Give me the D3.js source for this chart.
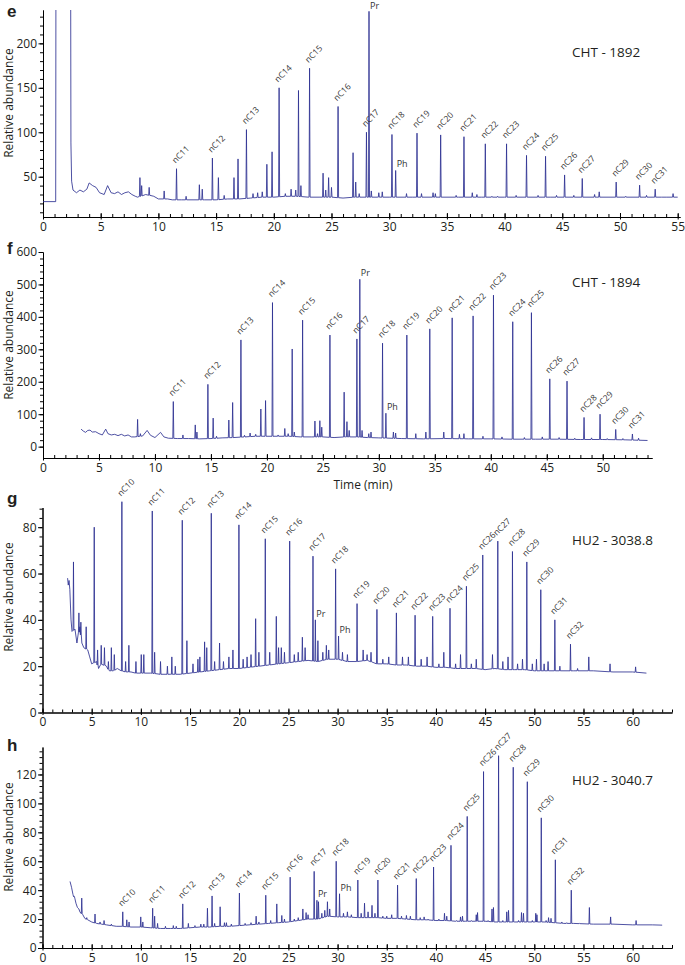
<!DOCTYPE html>
<html>
<head>
<meta charset="utf-8">
<script src="https://cdn.jsdelivr.net/npm/d3@7"></script>
<style>
  html, body { margin: 0; padding: 0; background: #fff; }
  svg { display: block; font-family: 'Open Sans', 'Liberation Sans', sans-serif; }
</style>
</head>
<body>
<svg id="chart" width="685" height="965"></svg>
<script>
// ── Data (time in min, relative abundance) ──────────────────────────────────
// Panel e – CHT - 1892
const E_BASELINE = [[0,22],[1.1,22],[1.13,400],[2.38,400],[2.42,88],[2.48,45],[2.6,35],[2.9,32],[3.2,35],[3.5,33],
  [3.8,36],[4.0,43],[4.3,40],[4.6,38],[4.9,32],[5.3,30],[5.6,40],[5.9,32],[6.2,31],[6.5,33],[6.8,30],[7.1,32],
  [7.4,33],[7.7,30],[8.0,28],[8.2,27],[8.9,30],[9.6,28],[10.0,25],[10.8,25],[11.2,24],[12,24],[13,24],[14,24],
  [15,24],[16,25],[17,25],[18,26],[19,27],[20,27],[21,28],[22,28],[23,27],[24,27],[25,27],[26,26],[27,27],
  [28,27],[29,27],[30,27],[32,27],[34,27],[36,27],[38,27],[40,27],[42,27],[44,27],[46,27],[48,27],[50,27],
  [52,27],[54,27],[55,27]];
const E_PEAKS = [[8.4,49],[8.55,40],[9.2,38],[10.5,34],[11.57,59],[12.4,28],[13.55,41],[13.8,36],[14.68,71],
  [15.2,49],[15.7,29],[16.55,49],[16.9,70],[17.63,103],[18.2,31],[18.6,32],[19.0,33],[19.4,64],[19.85,78],
  [20.46,150],[21.0,31],[21.5,36],[21.9,35],[22.14,147],[22.35,40],[23.1,172],[24.27,54],[24.5,35],[24.75,49],
  [25.0,38],[25.57,129],[26.87,77],[27.1,44],[27.4,31],[28.03,100],[28.25,236],[28.45,34],[29.1,32],[29.4,33],
  [30.24,97.5],[30.56,57],[31.5,31],[32.41,99],[32.8,31],[33.8,32],[34.0,31],[34.46,97],[35.8,29],[36.48,95],
  [37.2,32],[37.6,30],[38.33,87],[38.9,28],[39.4,28],[40.17,87],[41.0,29],[41.9,74],[42.9,29],[43.55,73],
  [44.5,29],[45.2,52],[46.0,29],[46.73,48],[47.8,30],[48.2,33],[49.67,44],[50.5,28],[51.7,40.5],[52.3,29],
  [53.05,36],[53.6,27],[54.6,31]];
const E_LABELS = [['nC11',11.57],['nC12',14.68],['nC13',17.63],['nC14',20.46],['nC15',23.1],['nC16',25.57],
  ['nC17',28.03],['Pr',28.25],['nC18',30.24],['Ph',30.56],['nC19',32.41],['nC20',34.46],['nC21',36.48],
  ['nC22',38.33],['nC23',40.17],['nC24',41.9],['nC25',43.55],['nC26',45.2],['nC27',46.73],['nC29',49.67],
  ['nC30',51.7],['nC31',53.05]];
const E_Y_TICKS = [50, 100, 150, 200];

// Panel f – CHT - 1894
const F_BASELINE = [[3.4,54],[3.6,48],[3.8,44],[4.0,50],[4.2,51],[4.4,45],[4.7,46],[5.0,40],[5.3,36],[5.6,54],
  [5.8,40],[6.1,36],[6.4,38],[6.7,34],[7.0,38],[7.3,33],[7.6,36],[7.9,30],[8.2,30],[8.9,33],[9.3,50],[9.6,35],
  [10.0,28],[10.5,44],[10.8,30],[11.2,26],[12,25],[13,25],[14,24],[15,25],[16,27],[17,28],[18,30],[19,32],
  [20,32],[21,32],[22,32],[23,30],[24,30],[25,30],[26,28],[27,30],[28,30],[29,28],[30,27],[31,26],[32,25],
  [34,24],[36,25],[38,24],[40,24],[42,23],[44,23],[46,23],[48,22],[50,22],[52,21],[54,19]];
const F_PEAKS = [[8.45,84],[8.7,40],[11.64,139],[12.5,36],[13.6,67],[13.75,45],[14.73,192],[15.2,88],[15.5,32],
  [16.6,82],[16.94,136],[17.68,329],[18.0,35],[18.5,42],[19.0,38],[19.46,116],[19.88,142],[20.5,444],[21.0,36],
  [21.6,56],[21.9,40],[22.26,301],[22.45,45],[23.19,390],[24.29,79],[24.52,40],[24.73,80],[24.9,60],[25.63,344],
  [26.9,168],[27.15,77],[27.35,50],[28.04,332],[28.3,516],[28.5,50],[29.1,40],[29.3,45],[30.33,319],[30.63,103],
  [31.3,45],[31.5,42],[32.5,344],[33.3,40],[34.2,45],[34.55,363],[35.8,45],[36.55,397],[37.2,38],[37.6,40],
  [38.42,403],[39.3,32],[40.24,467],[41.0,30],[41.96,385],[43.0,28],[43.63,413],[44.6,30],[45.27,209],[46.1,28],
  [46.81,202],[47.5,26],[48.33,90],[49.0,27],[49.76,100],[50.4,25],[51.16,53],[51.8,25],[52.65,39],[53.2,26]];
const F_LABELS = [['nC11',11.64],['nC12',14.73],['nC13',17.68],['nC14',20.5],['nC15',23.19],['nC16',25.63],
  ['nC17',28.04],['Pr',28.3],['nC18',30.33],['Ph',30.63],['nC19',32.5],['nC20',34.55],['nC21',36.55],
  ['nC22',38.42],['nC23',40.24],['nC24',41.96],['nC25',43.63],['nC26',45.27],['nC27',46.81],['nC28',48.33],
  ['nC29',49.76],['nC30',51.16],['nC31',52.65]];
const F_Y_TICKS = [0, 100, 200, 300, 400, 500, 600];

// Panel g – HU2 - 3038.8
const G_BASELINE = [[2.55,58],[2.62,55],[2.7,57],[2.78,53],[2.9,40],[3.0,35],[3.3,36],[3.5,30],[3.8,37],[4.0,30],
  [4.2,28],[4.6,27],[4.8,24],[5.0,21],[5.5,22],[5.7,19],[6.0,21],[6.5,20],[6.8,18],[7.2,18],[7.6,19],[8.0,18],
  [8.5,17.5],[9,17.5],[9.5,17],[10,17],[11,17],[12,16.5],[13,16.5],[14,16.5],[15,17],[16,17.5],[17,18],[18,18.5],
  [19,19],[20,19],[21,19.5],[22,20],[23,20.5],[24,21],[25,21.5],[26,22],[27,22.5],[28,22],[29,23],[30,23],
  [31,22],[32,22],[33,22.5],[34,21],[35,21],[36,20.5],[37,20.5],[38,20],[39,20],[40,19.5],[41,19.5],[42,19],
  [43,19],[44,19],[45,18.5],[46,19],[47,18.5],[48,18.5],[49,18.5],[50,18],[52,18],[54,18],[56,18],[58,17.5],
  [60,17.5],[61.4,17]];
const G_PEAKS = [[3.15,65],[3.7,43],[3.9,39],[4.44,37],[5.26,80],[5.6,27],[5.97,29],[6.3,28],[6.7,22],[7.0,28],
  [7.3,25],[8.07,91],[8.45,22],[8.78,29],[9.5,22],[10.04,25],[10.3,25],[11.16,87],[11.4,26],[12.0,22],[12.7,20],
  [13.15,24],[13.5,20],[14.21,83],[14.68,31],[15.3,21],[15.8,23],[16.0,24],[16.48,30.5],[16.7,28],[17.16,86],
  [17.5,22],[18.0,30],[18.4,22],[18.95,24],[19.36,27],[19.97,81],[20.4,23],[20.8,24],[21.2,25],[21.67,40.5],
  [22.0,26],[22.65,75],[23.1,26],[23.77,41.5],[24.0,28],[24.28,28],[24.6,26],[25.13,74],[25.6,25],[26.0,26],
  [26.42,32.5],[26.7,28],[27.5,67.5],[27.74,40],[28.0,31],[28.5,26],[28.86,29],[29.1,27],[29.8,62],[30.1,33],
  [30.5,26],[31.0,25],[31.98,47],[32.6,27],[33.0,25],[33.4,26],[34.0,44.5],[34.6,23],[35.2,24],[35.98,43],
  [36.6,24],[37.2,24],[37.88,42],[38.5,23],[39.1,24],[39.67,41.5],[40.3,21],[40.8,26],[41.43,45],[42.0,21],
  [42.5,25],[43.1,54.5],[43.6,21],[44.1,23],[44.76,68],[45.75,25],[46.29,74],[46.8,22],[47.33,24],[47.78,69.5],
  [48.3,21],[48.8,23],[49.24,65],[49.8,21],[50.22,23],[50.66,53],[51.0,21],[51.4,22],[52.09,40],[52.6,20],
  [53.68,29.5],[54.4,19],[55.54,24],[57.7,21],[60.3,19.7]];
const G_LABELS = [['nC10',8.07],['nC11',11.16],['nC12',14.21],['nC13',17.16],['nC14',19.97],['nC15',22.65],
  ['nC16',25.13],['nC17',27.5],['Pr',27.74],['nC18',29.8],['Ph',30.1],['nC19',31.98],['nC20',34.0],
  ['nC21',35.98],['nC22',37.88],['nC23',39.67],['nC24',41.43],['nC25',43.1],['nC26',44.76],['nC27',46.29],
  ['nC28',47.78],['nC29',49.24],['nC30',50.66],['nC31',52.09],['nC32',53.68]];
const G_Y_TICKS = [0, 20, 40, 60, 80];

// Panel h – HU2 - 3040.7
const H_BASELINE = [[2.8,46],[2.95,42],[3.1,37],[3.3,34],[3.4,31],[3.55,28],[3.7,27],[3.8,25],[4.1,23],[4.3,20.5],
  [4.6,19.5],[5.0,18],[5.5,17],[6.0,16.5],[6.5,16],[7.0,15.5],[7.5,15],[8.0,15],[9,14.5],[10,14.5],[11,14],
  [12,13.5],[13,13.5],[14,13.5],[15,14],[16,14.5],[17,14.5],[18,15],[19,15],[20,15.5],[21,16],[22,16.5],[23,17],
  [24,17.5],[25,18],[26,19],[27,20],[28,20],[29,22],[30,21.5],[31,21.5],[32,21],[33,21],[34,21],[35,20.5],
  [36,20.5],[37,20],[38,19.5],[39,19.5],[40,19],[41,19],[42,18.5],[43,18.5],[44,18.5],[45,18.5],[46,18],[47,18],
  [48,18],[49,18],[50,18],[51,18],[52,17.5],[53,17],[54,17],[56,16.5],[58,16.5],[60,16],[62,16],[63,15.8]];
const H_PEAKS = [[3.2,36],[3.99,34.5],[4.5,21],[5.34,23.5],[5.85,18],[6.26,19],[7.0,16.5],[8.16,25],[8.57,19.5],
  [8.8,18],[9.99,21.5],[10.2,18],[11.2,27.5],[11.4,22],[11.7,17],[12.5,15],[13.3,15.5],[13.6,15],[14.26,30.5],
  [14.83,17],[15.5,15.5],[16.1,16.5],[16.4,16.5],[16.77,27.5],[17.24,36],[17.5,17],[18.06,28.5],[18.5,17.5],
  [18.7,17.5],[19.2,16.5],[20.02,38],[20.6,17],[21.2,17.5],[21.72,22],[22.0,18],[22.7,36.5],[23.2,19],[23.82,30.5],
  [24.33,22.5],[24.6,20],[25.18,49],[25.6,20],[26.0,21],[26.47,27],[26.8,24.5],[27.0,23],[27.62,53],[27.9,33],
  [28.06,32],[28.4,24],[28.7,26],[28.97,32],[29.2,27],[29.86,60],[30.2,37.5],[30.6,24],[31.0,25],[31.4,23],
  [32.06,47],[32.4,24],[32.74,31],[33.1,25],[33.5,29.5],[33.8,24],[34.1,47],[34.6,22],[35.0,22],[35.5,23],
  [36.1,43.5],[36.5,22],[37.0,22.5],[37.4,22],[38.0,48],[38.4,21],[38.8,21.5],[39.2,20],[39.76,56],[40.3,20],
  [40.87,24],[41.1,22],[41.53,71],[42.1,19],[42.5,21.5],[42.7,22],[43.18,91],[43.6,19],[44.1,23],[44.23,24.5],
  [44.84,122],[45.3,19],[45.7,27],[45.85,28],[46.37,133],[46.8,19],[47.2,25],[47.38,26],[47.86,125],[48.4,19],
  [48.7,24.5],[48.9,24],[49.29,115],[49.8,19],[50.15,24],[50.27,23],[50.71,90],[51.2,19],[51.45,21],[51.7,20.5],
  [52.14,61],[52.8,18],[53.3,17.5],[53.76,40],[54.6,17],[55.6,28],[57.76,21.5],[60.35,19]];
const H_LABELS = [['nC10',8.16],['nC11',11.2],['nC12',14.26],['nC13',17.24],['nC14',20.02],['nC15',22.7],
  ['nC16',25.18],['nC17',27.62],['Pr',27.9],['nC18',29.86],['Ph',30.2],['nC19',32.06],['nC20',34.1],
  ['nC21',36.1],['nC22',38.0],['nC23',39.76],['nC24',41.53],['nC25',43.18],['nC26',44.84],['nC27',46.37],
  ['nC28',47.86],['nC29',49.29],['nC30',50.71],['nC31',52.14],['nC32',53.76]];
const H_Y_TICKS = [0, 20, 40, 60, 80, 100, 120];

const X_TICKS_55 = [0, 5, 10, 15, 20, 25, 30, 35, 40, 45, 50, 55];
const X_TICKS_50 = [0, 5, 10, 15, 20, 25, 30, 35, 40, 45, 50];
const X_TICKS_60 = [0, 5, 10, 15, 20, 25, 30, 35, 40, 45, 50, 55, 60];

// ── Drawing ─────────────────────────────────────────────────────────────────
const TRACE = '#2e3192';
const INK = '#231f20';
const HALF_W = 0.045;   // half width of a peak spike, minutes

// baseline + spikes merged into one time-ordered polyline
function buildTrace(baseline, peaks) {
  const base = d3.scaleLinear().domain(baseline.map(d => d[0])).range(baseline.map(d => d[1])).clamp(true);
  const pts = baseline.filter(b => !peaks.some(p => Math.abs(p[0] - b[0]) < HALF_W * 1.5));
  peaks.forEach(p => {
    const b = base(p[0]);
    pts.push([p[0] - HALF_W, b], [p[0], p[1]], [p[0] + HALF_W, b]);
  });
  return pts.sort((a, b) => a[0] - b[0]);
}

function drawPanel(svg, p, idx) {
  const x = d3.scaleLinear().domain(p.xDomain).range(p.xRange);
  const y = d3.scaleLinear().domain(p.yDomain).range(p.yRange);
  const g = svg.append('g');
  const x0 = p.xRange[0], yAxisPos = p.yRange[0];

  // y axis (minor then major)
  g.append('g').attr('transform', `translate(${x0},0)`)
    .call(d3.axisLeft(y).tickValues(p.yMinor).tickSize(3).tickSizeOuter(0).tickFormat(''));
  g.append('g').attr('transform', `translate(${x0},0)`)
    .call(d3.axisLeft(y).tickValues(p.yTicks).tickSize(4.5).tickSizeOuter(0).tickPadding(1.5))
    .attr('font-family', null).attr('font-size', 12)
    .call(ax => ax.selectAll('text').attr('fill', INK));

  // x axis: ticks point inwards
  g.append('g').attr('transform', `translate(0,${yAxisPos})`)
    .call(d3.axisBottom(x).tickValues(p.xMinor).tickSizeInner(-3).tickSizeOuter(0).tickFormat(''));
  g.append('g').attr('transform', `translate(0,${yAxisPos})`)
    .call(d3.axisBottom(x).tickValues(p.xTicks).tickSizeInner(-4).tickSizeOuter(0).tickPadding(5))
    .attr('font-family', null).attr('font-size', 12)
    .call(ax => ax.selectAll('.tick line').attr('y1', 2.5))
    .call(ax => ax.selectAll('text').attr('fill', INK));

  // trace
  const clipId = 'clip-' + idx;
  svg.append('clipPath').attr('id', clipId).append('rect')
    .attr('x', x0).attr('y', p.clipTop).attr('width', 685 - x0).attr('height', yAxisPos - p.clipTop);
  const line = d3.line().x(d => x(d[0])).y(d => y(d[1]));
  g.append('path')
    .datum(buildTrace(p.baseline, p.peaks))
    .attr('clip-path', `url(#${clipId})`)
    .attr('fill', 'none')
    .attr('stroke', TRACE)
    .attr('stroke-width', 0.85)
    .attr('d', line);

  // peak labels
  p.labels.forEach(([name, t]) => {
    const pk = p.peaks.find(d => Math.abs(d[0] - t) < 1e-6);
    const px = x(t), py = y(pk[1]);
    if (name === 'Pr' || name === 'Ph') {
      g.append('text').attr('x', px + 1).attr('y', Math.max(py - 3, 9))
        .attr('font-size', 9).attr('fill', '#333').text(name);
    } else {
      g.append('text')
        .attr('transform', `translate(${px - 1},${py - 5}) rotate(-45)`)
        .attr('font-size', 8.5).attr('fill', '#333').text(name);
    }
  });

  // sample name, panel letter, y title
  g.append('text').attr('x', 572).attr('y', p.nameY)
    .attr('font-size', 13.5).attr('fill', INK).text(p.name);
  g.append('text').attr('x', 7).attr('y', p.letterY)
    .attr('font-family', "'Liberation Sans', Arial, sans-serif")
    .attr('font-size', 17).attr('font-weight', 700).attr('fill', INK).text(p.letter);
  g.append('text')
    .attr('transform', `translate(13,${p.titleY}) rotate(-90)`)
    .attr('text-anchor', 'middle').attr('font-size', 12).attr('fill', INK)
    .text('Relative abundance');
}

const svg = d3.select('#chart');

const PANELS = [
  { letter: 'e', name: 'CHT - 1892', baseline: E_BASELINE, peaks: E_PEAKS, labels: E_LABELS,
    xDomain: [0, 55.2], xRange: [43, 680], yDomain: [4.7, 237.5], yRange: [217, 10], clipTop: 10,
    xTicks: X_TICKS_55, xMinor: d3.range(0, 56, 1), yTicks: E_Y_TICKS, yMinor: d3.range(10, 231, 10),
    nameY: 57, letterY: 17, titleY: 103 },
  { letter: 'f', name: 'CHT - 1894', baseline: F_BASELINE, peaks: F_PEAKS, labels: F_LABELS,
    xDomain: [0, 54.4], xRange: [43, 652], yDomain: [-35, 600], yRange: [458, 252], clipTop: 230,
    xTicks: X_TICKS_50, xMinor: d3.range(0, 55, 1), yTicks: F_Y_TICKS, yMinor: d3.range(0, 601, 20),
    nameY: 287, letterY: 254, titleY: 345 },
  { letter: 'g', name: 'HU2 - 3038.8', baseline: G_BASELINE, peaks: G_PEAKS, labels: G_LABELS,
    xDomain: [0, 64], xRange: [42.5, 672], yDomain: [0, 88.5], yRange: [712.5, 507.5], clipTop: 480,
    xTicks: X_TICKS_60, xMinor: d3.range(0, 65, 1), yTicks: G_Y_TICKS, yMinor: d3.range(0, 89, 4),
    nameY: 545, letterY: 504, titleY: 597 },
  { letter: 'h', name: 'HU2 - 3040.7', baseline: H_BASELINE, peaks: H_PEAKS, labels: H_LABELS,
    xDomain: [0, 64], xRange: [42.5, 672], yDomain: [0, 139], yRange: [948, 747], clipTop: 725,
    xTicks: X_TICKS_60, xMinor: d3.range(0, 65, 1), yTicks: H_Y_TICKS, yMinor: d3.range(0, 139, 4),
    nameY: 785, letterY: 751, titleY: 837 }
];

PANELS.forEach((p, i) => drawPanel(svg, p, i));

// shared time label under panel f
svg.append('text').attr('x', 363).attr('y', 489)
  .attr('text-anchor', 'middle').attr('font-size', 12).attr('fill', INK).text('Time (min)');
</script>
</body>
</html>
